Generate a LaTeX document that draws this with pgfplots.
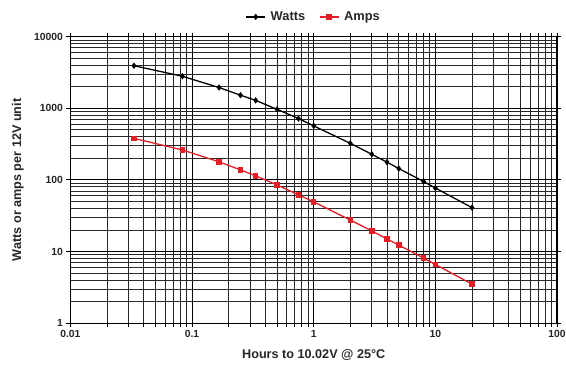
\documentclass[border=0pt]{standalone}
\usepackage{pgfplots}
\pgfplotsset{compat=1.18}
\usepackage{fontspec}
\setmainfont{Liberation Sans}
\definecolor{ampred}{RGB}{228,30,38}
\definecolor{gridc}{RGB}{40,40,40}
\begin{document}
\begin{tikzpicture}
\path[use as bounding box] (-71bp,-43bp) rectangle (500bp,326bp);
\begin{axis}[
  at={(0,0)}, anchor=south west,
  scale only axis, width=491bp, height=289bp,
  xmode=log, ymode=log,
  xmin=0.01, xmax=100, ymin=1, ymax=10000,
  xtick={0.01,0.1,1,10,100},
  xticklabels={0.01,0.1,1,10,100},
  ytick={1,10,100,1000,10000},
  yticklabels={1,10,100,1000,10000},
  minor xtick={0.02,0.03,0.04,0.05,0.06,0.07,0.08,0.09,
               0.2,0.3,0.4,0.5,0.6,0.7,0.8,0.9,
               2,3,4,5,6,7,8,9,
               20,30,40,50,60,70,80,90},
  minor ytick={2,3,4,5,6,7,8,9,
               20,30,40,50,60,70,80,90,
               200,300,400,500,600,700,800,900,
               2000,3000,4000,5000,6000,7000,8000,9000},
  grid=both,
  major grid style={draw=black, line width=1bp},
  minor grid style={draw=gridc, line width=0.9bp},
  tick align=outside,
  major tick length=4bp, minor tick length=4bp,
  tick style={black, line width=0.9bp},
  minor y tick style={draw=none},
  axis line style={line width=1.2bp},
  ticklabel style={font=\fontsize{10.5}{12}\selectfont\bfseries, text=black!85},
  /pgf/number format/assume math mode=true,
  xlabel={Hours to 10.02V @ 25°C},
  ylabel={Watts or amps per 12V unit},
  label style={font=\fontsize{12.8}{14}\selectfont\bfseries, text=black!85},
  xlabel style={at={(axis description cs:0.5,-0.111)}, anchor=center},
  ylabel style={at={(axis description cs:-0.108,0.5)}, anchor=center},
  legend style={at={(axis description cs:0.5,1.069)}, anchor=center, draw=none, fill=none,
    legend columns=2, font=\fontsize{13}{15}\selectfont\bfseries, text=black!85,
    /tikz/every odd column/.append style={column sep=3bp},
    /tikz/every even column/.append style={column sep=12bp}},
  legend image code/.code={\draw[#1] (0bp,0bp) -- (19bp,0bp); \draw[#1] plot coordinates {(9.5bp,0bp)};},
  clip=false,
]
\addplot[black, line width=1.3bp, mark=diamond*, mark size=2.2bp] coordinates {
(0.0333,3930) (0.0833,2800) (0.1667,1950) (0.25,1525) (0.3333,1290) (0.5,966)
(0.75,719) (1,568) (2,324) (3,228) (4,177) (5,144) (8,95) (10,77) (20,41)
};
\addlegendentry{Watts}
\addplot[ampred, line width=1.3bp, mark=square*, mark size=2.1bp] coordinates {
(0.0333,380) (0.0833,262) (0.1667,179) (0.25,138) (0.3333,114) (0.5,85)
(0.75,61.8) (1,49.4) (2,27.5) (3,19.4) (4,15.0) (5,12.3) (8,8.1) (10,6.6) (20,3.5)
};
\addlegendentry{Amps}
\end{axis}
\end{tikzpicture}
\end{document}
